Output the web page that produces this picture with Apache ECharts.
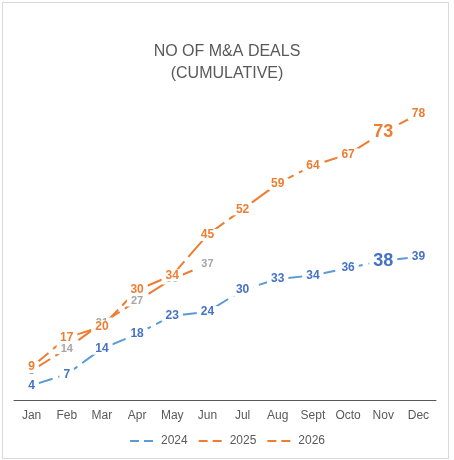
<!DOCTYPE html>
<html lang="en">
<head>
  <meta charset="UTF-8">
  <title>NO OF M&A DEALS</title>
  <script src="https://cdn.jsdelivr.net/npm/echarts@6/dist/echarts.min.js"></script>
  <style>
    html, body { margin: 0; padding: 0; background: #fff; }
    #char { width: 454px; height: 460px; }
    .frame {
      position: absolute; left: 2px; top: 2px; width: 445px; height: 455px;
      border: 1px solid #d9d9d9; pointer-events: none;
    }
  </style>
</head>
<body>
  <div id="char"></div>
  <div class="frame"></div>
  <script>
    // data
    const months = ['Jan', 'Feb', 'Mar', 'Apr', 'May', 'Jun', 'Jul', 'Aug', 'Sept', 'Octo', 'Nov', 'Dec'];
    const deals2024 = [4, 7, 14, 18, 23, 24, 30, 33, 34, 36, 38, 39];
    const deals2025 = [9, 17, 20, 30, 34, 45, 52, 59, 64, 67, 73, 78];
    const deals2026 = [8, 14, 21, 27, 33, 37];
    const bigLabelMonth = 'Nov';

    const chart = echarts.init(document.getElementById('char'), null, { renderer: 'canvas' });

    // label sits on the point, white box cuts the dashed line
    function makeSeries(name, values, lineColor, labelColor, fontSize, z, opts) {
      opts = opts || {};
      return {
        name: name,
        type: 'line',
        z: z,
        silent: true,
        symbol: 'circle',
        symbolSize: 2,
        itemStyle: { color: 'rgba(0,0,0,0)', borderWidth: 0 },
        lineStyle: { color: lineColor, width: 2, type: [22, 6], opacity: opts.noLine ? 0 : 1 },
        label: {
          show: !opts.noLabel,
          position: 'inside',
          color: labelColor,
          fontWeight: 'bold',
          fontSize: fontSize,
          fontFamily: 'Liberation Sans, Arial, sans-serif',
          backgroundColor: '#fff',
          padding: [0, 4]
        },
        emphasis: { disabled: true },
        data: values.map(function (v, i) {
          if (months[i] === bigLabelMonth && name !== '2026') {
            return { value: v, label: { fontSize: 18 } };
          }
          return v;
        })
      };
    }

    const option = {
      animation: false,
      title: {
        text: 'NO OF M&A DEALS\n(CUMULATIVE)',
        left: 'center',
        top: 36,
        textStyle: {
          color: '#595959',
          fontSize: 16,
          fontWeight: 'normal',
          lineHeight: 22,
          fontFamily: 'Liberation Sans, Arial, sans-serif'
        }
      },
      legend: {
        data: ['2024', '2025', '2026'],
        top: 430,
        left: 'center',
        itemWidth: 26,
        itemHeight: 10,
        itemGap: 10,
        lineStyle: { type: [9, 5], width: 2 },
        textStyle: { color: '#595959', fontSize: 12, fontFamily: 'Liberation Sans, Arial, sans-serif' }
      },
      grid: { left: 14, right: 18, top: 70, bottom: 60 },
      xAxis: {
        type: 'category',
        data: months,
        boundaryGap: true,
        axisLine: { lineStyle: { color: '#595959', width: 1 } },
        axisTick: { show: false },
        axisLabel: {
          color: '#595959',
          fontSize: 12,
          margin: 10,
          fontFamily: 'Liberation Sans, Arial, sans-serif'
        }
      },
      yAxis: {
        type: 'value',
        min: 0,
        max: 90,
        show: false,
        splitLine: { show: false }
      },
      series: [
        makeSeries('2024', deals2024, '#5B9BD5', '#4472C4', 12, 2),
        makeSeries('2025', deals2025, '#ED7D31', '#ED7D31', 12, 3, { noLabel: true }),
        makeSeries('2026', deals2026, '#ED7D31', '#A5A5A5', 11, 4),
        // 2025 labels drawn last so they sit over the 2026 ones
        makeSeries('2025', deals2025, '#ED7D31', '#ED7D31', 12, 5, { noLine: true })
      ]
    };
    option && chart.setOption(option);
  </script>
</body>
</html>
